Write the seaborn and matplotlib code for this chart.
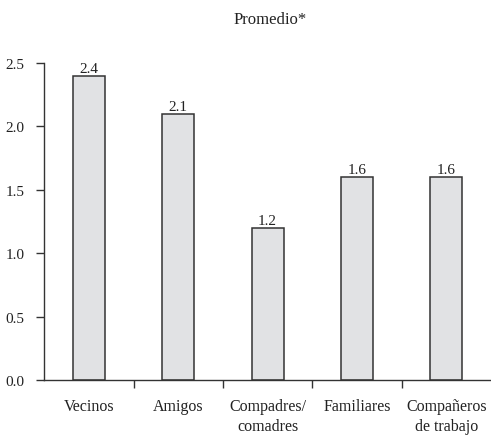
import pandas as pd
import matplotlib.pyplot as plt
import seaborn as sns

# Data
categorias = ["Vecinos", "Amigos", "Compadres/\ncomadres", "Familiares", "Compañeros\nde trabajo"]
promedio = [2.4, 2.1, 1.2, 1.6, 1.6]
etiquetas = ["2.4", "2.1", "1.2", "1.6", "1.6"]

df = pd.DataFrame({"categoria": categorias, "promedio": promedio})

sns.set_style("ticks")
plt.rcParams['font.family'] = ['Liberation Serif', 'DejaVu Serif']

fig = plt.figure(figsize=(4.91, 4.39), dpi=100)
ax = fig.add_axes([0.09, 0.132, 0.91, 0.722])

sns.barplot(data=df, x="categoria", y="promedio", color="#e1e2e4",
            saturation=1, width=0.36, edgecolor="#333333", linewidth=1.1, ax=ax)

for i, (v, t) in enumerate(zip(promedio, etiquetas)):
    ax.text(i, v + 0.01, t, ha="center", va="bottom", fontsize=11, color="#222222")

ax.set_xlim(-0.5, 4.5)
ax.set_ylim(0, 2.5)
ax.set_yticks([0, 0.5, 1.0, 1.5, 2.0, 2.5])
ax.set_yticklabels(["0.0", "0.5", "1.0", "1.5", "2.0", "2.5"], fontsize=11, color="#222222")

# category labels centered, tick marks at boundaries
ax.set_xticks(range(len(categorias)))
ax.set_xticklabels(categorias, fontsize=11.5, color="#222222", linespacing=1.3)
ax.tick_params(axis="x", length=0, pad=13)
ax.set_xticks([0.5, 1.5, 2.5, 3.5], minor=True)
ax.tick_params(axis="x", which="minor", length=6, width=1, color="#333333")
ax.tick_params(axis="y", length=6, width=1, color="#333333", pad=8)

ax.set_xlabel("")
ax.set_ylabel("")
sns.despine(ax=ax)
for s in ["left", "bottom"]:
    ax.spines[s].set_color("#333333")
    ax.spines[s].set_linewidth(1)

fig.text(0.55, 0.955, "Promedio*", ha="center", va="center", fontsize=12, color="#222222")

fig.savefig("out.png", dpi=100)
